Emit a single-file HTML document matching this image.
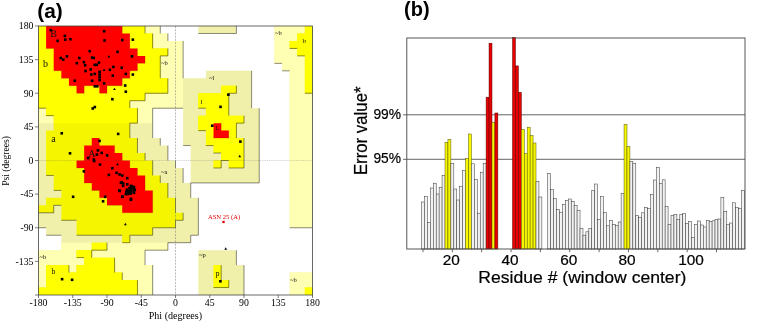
<!DOCTYPE html>
<html lang="en"><head><meta charset="utf-8"><title>Figure</title>
<style>html,body{margin:0;padding:0;background:#fff;}body{width:766px;height:324px;overflow:hidden;}svg{display:block;}</style>
</head><body>
<svg width="766" height="324" viewBox="0 0 766 324">
<rect x="0" y="0" width="766" height="324" fill="#ffffff"/>
<path d="M38.50 26.00H160.28V33.47H38.50ZM198.33 26.00H236.39V33.47H198.33ZM274.44 26.00H312.50V33.47H274.44ZM38.50 33.47H167.89V40.94H38.50ZM274.44 33.47H312.50V40.94H274.44ZM38.50 40.94H183.11V48.42H38.50ZM274.44 40.94H312.50V48.42H274.44ZM38.50 48.42H183.11V55.89H38.50ZM274.44 48.42H312.50V55.89H274.44ZM38.50 55.89H183.11V63.36H38.50ZM274.44 55.89H312.50V63.36H274.44ZM38.50 63.36H183.11V70.83H38.50ZM282.06 63.36H312.50V70.83H282.06ZM38.50 70.83H183.11V78.31H38.50ZM205.94 70.83H251.61V78.31H205.94ZM289.67 70.83H312.50V78.31H289.67ZM38.50 78.31H251.61V85.78H38.50ZM289.67 78.31H312.50V85.78H289.67ZM38.50 85.78H251.61V93.25H38.50ZM289.67 85.78H312.50V93.25H289.67ZM38.50 93.25H251.61V100.72H38.50ZM289.67 93.25H312.50V100.72H289.67ZM38.50 100.72H251.61V108.19H38.50ZM289.67 100.72H312.50V108.19H289.67ZM38.50 108.19H152.67V115.67H38.50ZM183.11 108.19H259.22V115.67H183.11ZM289.67 108.19H312.50V115.67H289.67ZM38.50 115.67H152.67V123.14H38.50ZM183.11 115.67H259.22V123.14H183.11ZM289.67 115.67H312.50V123.14H289.67ZM38.50 123.14H152.67V130.61H38.50ZM183.11 123.14H259.22V130.61H183.11ZM289.67 123.14H312.50V130.61H289.67ZM38.50 130.61H152.67V138.08H38.50ZM183.11 130.61H259.22V138.08H183.11ZM289.67 130.61H312.50V138.08H289.67ZM38.50 138.08H160.28V145.56H38.50ZM183.11 138.08H259.22V145.56H183.11ZM289.67 138.08H312.50V145.56H289.67ZM38.50 145.56H167.89V153.03H38.50ZM190.72 145.56H259.22V153.03H190.72ZM289.67 145.56H312.50V153.03H289.67ZM38.50 153.03H167.89V160.50H38.50ZM190.72 153.03H259.22V160.50H190.72ZM289.67 153.03H312.50V160.50H289.67ZM38.50 160.50H175.50V167.97H38.50ZM190.72 160.50H259.22V167.97H190.72ZM289.67 160.50H312.50V167.97H289.67ZM38.50 167.97H183.11V175.44H38.50ZM190.72 167.97H259.22V175.44H190.72ZM289.67 167.97H312.50V175.44H289.67ZM38.50 175.44H183.11V182.92H38.50ZM190.72 175.44H259.22V182.92H190.72ZM289.67 175.44H312.50V182.92H289.67ZM38.50 182.92H190.72V190.39H38.50ZM289.67 182.92H312.50V190.39H289.67ZM38.50 190.39H190.72V197.86H38.50ZM289.67 190.39H312.50V197.86H289.67ZM38.50 197.86H198.33V205.33H38.50ZM289.67 197.86H312.50V205.33H289.67ZM38.50 205.33H198.33V212.81H38.50ZM289.67 205.33H312.50V212.81H289.67ZM38.50 212.81H198.33V220.28H38.50ZM289.67 212.81H312.50V220.28H289.67ZM38.50 220.28H198.33V227.75H38.50ZM289.67 220.28H312.50V227.75H289.67ZM46.11 227.75H198.33V235.22H46.11ZM61.33 235.22H190.72V242.69H61.33ZM61.33 242.69H167.89V250.17H61.33ZM38.50 250.17H145.06V257.64H38.50ZM198.33 250.17H236.39V257.64H198.33ZM38.50 257.64H145.06V265.11H38.50ZM198.33 257.64H236.39V265.11H198.33ZM38.50 265.11H152.67V272.58H38.50ZM198.33 265.11H244.00V272.58H198.33ZM38.50 272.58H152.67V280.06H38.50ZM198.33 272.58H244.00V280.06H198.33ZM289.67 272.58H312.50V280.06H289.67ZM38.50 280.06H152.67V287.53H38.50ZM198.33 280.06H244.00V287.53H198.33ZM289.67 280.06H312.50V287.53H289.67ZM38.50 287.53H152.67V295.00H38.50ZM198.33 287.53H244.00V295.00H198.33ZM289.67 287.53H312.50V295.00H289.67Z" fill="#f0f0ab" fill-rule="nonzero"/>
<path d="M145.06 26.00H160.28V33.47H145.06ZM274.44 26.00H304.89V33.47H274.44ZM152.67 33.47H167.89V40.94H152.67ZM274.44 33.47H297.28V40.94H274.44ZM152.67 40.94H183.11V48.42H152.67ZM274.44 40.94H289.67V48.42H274.44ZM167.89 48.42H183.11V55.89H167.89ZM274.44 48.42H297.28V55.89H274.44ZM160.28 55.89H183.11V63.36H160.28ZM274.44 55.89H304.89V63.36H274.44ZM160.28 63.36H183.11V70.83H160.28ZM282.06 63.36H304.89V70.83H282.06ZM160.28 70.83H183.11V78.31H160.28ZM289.67 70.83H304.89V78.31H289.67ZM167.89 78.31H183.11V85.78H167.89ZM289.67 78.31H304.89V85.78H289.67ZM167.89 85.78H183.11V93.25H167.89ZM289.67 85.78H304.89V93.25H289.67ZM145.06 93.25H183.11V100.72H145.06ZM289.67 93.25H312.50V100.72H289.67ZM129.83 100.72H183.11V108.19H129.83ZM289.67 100.72H312.50V108.19H289.67ZM38.50 108.19H46.11V115.67H38.50ZM137.44 108.19H152.67V115.67H137.44ZM289.67 108.19H312.50V115.67H289.67ZM38.50 115.67H53.72V123.14H38.50ZM137.44 115.67H152.67V123.14H137.44ZM289.67 115.67H312.50V123.14H289.67ZM289.67 123.14H312.50V130.61H289.67ZM289.67 130.61H312.50V138.08H289.67ZM289.67 138.08H312.50V145.56H289.67ZM289.67 145.56H312.50V153.03H289.67ZM289.67 153.03H312.50V160.50H289.67ZM289.67 160.50H312.50V167.97H289.67ZM289.67 167.97H312.50V175.44H289.67ZM289.67 175.44H312.50V182.92H289.67ZM289.67 182.92H312.50V190.39H289.67ZM289.67 190.39H312.50V197.86H289.67ZM289.67 197.86H312.50V205.33H289.67ZM289.67 205.33H312.50V212.81H289.67ZM289.67 212.81H312.50V220.28H289.67ZM289.67 220.28H312.50V227.75H289.67ZM61.33 242.69H91.78V250.17H61.33ZM107.00 242.69H167.89V250.17H107.00ZM38.50 250.17H76.56V257.64H38.50ZM91.78 250.17H145.06V257.64H91.78ZM38.50 257.64H84.17V265.11H38.50ZM114.61 257.64H145.06V265.11H114.61ZM38.50 265.11H46.11V272.58H38.50ZM68.94 265.11H76.56V272.58H68.94ZM114.61 265.11H152.67V272.58H114.61ZM38.50 272.58H46.11V280.06H38.50ZM122.22 272.58H152.67V280.06H122.22ZM289.67 272.58H312.50V280.06H289.67ZM38.50 280.06H46.11V287.53H38.50ZM137.44 280.06H152.67V287.53H137.44ZM289.67 280.06H312.50V287.53H289.67ZM137.44 287.53H152.67V295.00H137.44ZM289.67 287.53H304.89V295.00H289.67Z" fill="#ffffb4" fill-rule="nonzero"/>
<path d="M38.50 26.00H145.06V33.47H38.50ZM304.89 26.00H312.50V33.47H304.89ZM38.50 33.47H152.67V40.94H38.50ZM297.28 33.47H312.50V40.94H297.28ZM38.50 40.94H152.67V48.42H38.50ZM289.67 40.94H312.50V48.42H289.67ZM38.50 48.42H167.89V55.89H38.50ZM297.28 48.42H312.50V55.89H297.28ZM38.50 55.89H160.28V63.36H38.50ZM304.89 55.89H312.50V63.36H304.89ZM38.50 63.36H160.28V70.83H38.50ZM304.89 63.36H312.50V70.83H304.89ZM38.50 70.83H160.28V78.31H38.50ZM304.89 70.83H312.50V78.31H304.89ZM38.50 78.31H167.89V85.78H38.50ZM304.89 78.31H312.50V85.78H304.89ZM38.50 85.78H167.89V93.25H38.50ZM221.17 85.78H236.39V93.25H221.17ZM304.89 85.78H312.50V93.25H304.89ZM38.50 93.25H145.06V100.72H38.50ZM198.33 93.25H228.78V100.72H198.33ZM38.50 100.72H129.83V108.19H38.50ZM198.33 100.72H228.78V108.19H198.33ZM46.11 108.19H137.44V115.67H46.11ZM205.94 108.19H228.78V115.67H205.94ZM53.72 115.67H137.44V123.14H53.72ZM198.33 115.67H244.00V123.14H198.33ZM53.72 123.14H129.83V130.61H53.72ZM198.33 123.14H236.39V130.61H198.33ZM46.11 130.61H129.83V138.08H46.11ZM205.94 130.61H236.39V138.08H205.94ZM46.11 138.08H137.44V145.56H46.11ZM205.94 138.08H244.00V145.56H205.94ZM46.11 145.56H137.44V153.03H46.11ZM213.56 145.56H244.00V153.03H213.56ZM46.11 153.03H145.06V160.50H46.11ZM221.17 153.03H244.00V160.50H221.17ZM46.11 160.50H152.67V167.97H46.11ZM213.56 160.50H221.17V167.97H213.56ZM228.78 160.50H244.00V167.97H228.78ZM46.11 167.97H152.67V175.44H46.11ZM53.72 175.44H160.28V182.92H53.72ZM53.72 182.92H167.89V190.39H53.72ZM61.33 190.39H167.89V197.86H61.33ZM46.11 197.86H175.50V205.33H46.11ZM38.50 205.33H53.72V212.81H38.50ZM61.33 205.33H175.50V212.81H61.33ZM61.33 212.81H183.11V220.28H61.33ZM76.56 220.28H175.50V227.75H76.56ZM76.56 227.75H152.67V235.22H76.56ZM122.22 235.22H129.83V242.69H122.22ZM91.78 242.69H107.00V250.17H91.78ZM76.56 250.17H91.78V257.64H76.56ZM84.17 257.64H114.61V265.11H84.17ZM46.11 265.11H68.94V272.58H46.11ZM76.56 265.11H114.61V272.58H76.56ZM213.56 265.11H221.17V272.58H213.56ZM46.11 272.58H122.22V280.06H46.11ZM213.56 272.58H221.17V280.06H213.56ZM46.11 280.06H137.44V287.53H46.11ZM213.56 280.06H228.78V287.53H213.56ZM38.50 287.53H137.44V295.00H38.50ZM304.89 287.53H312.50V295.00H304.89Z" fill="#f5f500" fill-rule="nonzero"/>
<path d="M38.50 26.00H46.11V33.47H38.50ZM122.22 26.00H145.06V33.47H122.22ZM304.89 26.00H312.50V33.47H304.89ZM38.50 33.47H46.11V40.94H38.50ZM129.83 33.47H152.67V40.94H129.83ZM297.28 33.47H312.50V40.94H297.28ZM38.50 40.94H46.11V48.42H38.50ZM129.83 40.94H152.67V48.42H129.83ZM289.67 40.94H312.50V48.42H289.67ZM38.50 48.42H53.72V55.89H38.50ZM137.44 48.42H167.89V55.89H137.44ZM297.28 48.42H312.50V55.89H297.28ZM38.50 55.89H53.72V63.36H38.50ZM145.06 55.89H160.28V63.36H145.06ZM304.89 55.89H312.50V63.36H304.89ZM38.50 63.36H53.72V70.83H38.50ZM137.44 63.36H160.28V70.83H137.44ZM304.89 63.36H312.50V70.83H304.89ZM38.50 70.83H61.33V78.31H38.50ZM129.83 70.83H160.28V78.31H129.83ZM304.89 70.83H312.50V78.31H304.89ZM38.50 78.31H68.94V85.78H38.50ZM122.22 78.31H167.89V85.78H122.22ZM304.89 78.31H312.50V85.78H304.89ZM38.50 85.78H76.56V93.25H38.50ZM84.17 85.78H99.39V93.25H84.17ZM107.00 85.78H167.89V93.25H107.00ZM221.17 85.78H236.39V93.25H221.17ZM304.89 85.78H312.50V93.25H304.89ZM38.50 93.25H145.06V100.72H38.50ZM198.33 93.25H228.78V100.72H198.33ZM38.50 100.72H129.83V108.19H38.50ZM198.33 100.72H228.78V108.19H198.33ZM46.11 108.19H137.44V115.67H46.11ZM205.94 108.19H228.78V115.67H205.94ZM53.72 115.67H137.44V123.14H53.72ZM198.33 115.67H244.00V123.14H198.33ZM198.33 123.14H213.56V130.61H198.33ZM221.17 123.14H236.39V130.61H221.17ZM205.94 130.61H213.56V138.08H205.94ZM228.78 130.61H236.39V138.08H228.78ZM205.94 138.08H244.00V145.56H205.94ZM213.56 145.56H244.00V153.03H213.56ZM221.17 153.03H244.00V160.50H221.17ZM213.56 160.50H221.17V167.97H213.56ZM228.78 160.50H244.00V167.97H228.78ZM91.78 242.69H107.00V250.17H91.78ZM76.56 250.17H91.78V257.64H76.56ZM84.17 257.64H114.61V265.11H84.17ZM46.11 265.11H68.94V272.58H46.11ZM76.56 265.11H114.61V272.58H76.56ZM213.56 265.11H221.17V272.58H213.56ZM46.11 272.58H122.22V280.06H46.11ZM213.56 272.58H221.17V280.06H213.56ZM46.11 280.06H137.44V287.53H46.11ZM213.56 280.06H228.78V287.53H213.56ZM38.50 287.53H137.44V295.00H38.50ZM304.89 287.53H312.50V295.00H304.89Z" fill="#ffff00" fill-rule="nonzero"/>
<path d="M46.11 26.00H122.22V33.47H46.11ZM46.11 33.47H129.83V40.94H46.11ZM46.11 40.94H129.83V48.42H46.11ZM53.72 48.42H137.44V55.89H53.72ZM53.72 55.89H145.06V63.36H53.72ZM53.72 63.36H137.44V70.83H53.72ZM61.33 70.83H129.83V78.31H61.33ZM68.94 78.31H122.22V85.78H68.94ZM76.56 85.78H84.17V93.25H76.56ZM99.39 85.78H107.00V93.25H99.39ZM213.56 123.14H221.17V130.61H213.56ZM213.56 130.61H228.78V138.08H213.56ZM91.78 138.08H99.39V145.56H91.78ZM84.17 145.56H114.61V153.03H84.17ZM84.17 153.03H122.22V160.50H84.17ZM76.56 160.50H129.83V167.97H76.56ZM84.17 167.97H137.44V175.44H84.17ZM84.17 175.44H145.06V182.92H84.17ZM91.78 182.92H145.06V190.39H91.78ZM99.39 190.39H152.67V197.86H99.39ZM107.00 197.86H152.67V205.33H107.00ZM122.22 205.33H152.67V212.81H122.22Z" fill="#ff0000" fill-rule="nonzero"/>
<path d="M145.06 26.00L145.06 33.47M160.28 26.00L160.28 33.47M198.33 33.47L205.94 33.47M205.94 33.47L213.56 33.47M213.56 33.47L221.17 33.47M221.17 33.47L228.78 33.47M236.39 26.00L236.39 33.47M228.78 33.47L236.39 33.47M152.67 33.47L152.67 40.94M167.89 33.47L167.89 40.94M152.67 40.94L152.67 48.42M183.11 40.94L183.11 48.42M289.67 48.42L297.28 48.42M167.89 48.42L167.89 55.89M160.28 55.89L167.89 55.89M183.11 48.42L183.11 55.89M297.28 55.89L304.89 55.89M160.28 55.89L160.28 63.36M183.11 55.89L183.11 63.36M274.44 63.36L282.06 63.36M160.28 63.36L160.28 70.83M183.11 63.36L183.11 70.83M282.06 70.83L289.67 70.83M160.28 70.83L160.28 78.31M183.11 70.83L183.11 78.31M251.61 70.83L251.61 78.31M167.89 78.31L167.89 85.78M251.61 78.31L251.61 85.78M145.06 93.25L152.67 93.25M152.67 93.25L160.28 93.25M167.89 85.78L167.89 93.25M160.28 93.25L167.89 93.25M236.39 85.78L236.39 93.25M228.78 93.25L236.39 93.25M251.61 85.78L251.61 93.25M304.89 93.25L312.50 93.25M129.83 100.72L137.44 100.72M145.06 93.25L145.06 100.72M137.44 100.72L145.06 100.72M228.78 93.25L228.78 100.72M251.61 93.25L251.61 100.72M38.50 108.19L46.11 108.19M129.83 100.72L129.83 108.19M152.67 108.19L160.28 108.19M160.28 108.19L167.89 108.19M167.89 108.19L175.50 108.19M175.50 108.19L183.11 108.19M198.33 108.19L205.94 108.19M228.78 100.72L228.78 108.19M251.61 100.72L251.61 108.19M46.11 115.67L53.72 115.67M137.44 108.19L137.44 115.67M152.67 108.19L152.67 115.67M228.78 108.19L228.78 115.67M259.22 108.19L259.22 115.67M137.44 115.67L137.44 123.14M129.83 123.14L137.44 123.14M152.67 115.67L152.67 123.14M244.00 115.67L244.00 123.14M236.39 123.14L244.00 123.14M259.22 115.67L259.22 123.14M129.83 123.14L129.83 130.61M152.67 123.14L152.67 130.61M198.33 130.61L205.94 130.61M236.39 123.14L236.39 130.61M259.22 123.14L259.22 130.61M129.83 130.61L129.83 138.08M152.67 130.61L152.67 138.08M236.39 130.61L236.39 138.08M259.22 130.61L259.22 138.08M137.44 138.08L137.44 145.56M160.28 138.08L160.28 145.56M183.11 145.56L190.72 145.56M205.94 145.56L213.56 145.56M244.00 138.08L244.00 145.56M259.22 138.08L259.22 145.56M137.44 145.56L137.44 153.03M167.89 145.56L167.89 153.03M213.56 153.03L221.17 153.03M244.00 145.56L244.00 153.03M259.22 145.56L259.22 153.03M145.06 153.03L145.06 160.50M167.89 153.03L167.89 160.50M221.17 160.50L228.78 160.50M244.00 153.03L244.00 160.50M259.22 153.03L259.22 160.50M152.67 160.50L152.67 167.97M175.50 160.50L175.50 167.97M221.17 160.50L221.17 167.97M213.56 167.97L221.17 167.97M228.78 167.97L236.39 167.97M244.00 160.50L244.00 167.97M236.39 167.97L244.00 167.97M259.22 160.50L259.22 167.97M46.11 175.44L53.72 175.44M152.67 167.97L152.67 175.44M183.11 167.97L183.11 175.44M259.22 167.97L259.22 175.44M160.28 175.44L160.28 182.92M183.11 175.44L183.11 182.92M190.72 182.92L198.33 182.92M198.33 182.92L205.94 182.92M205.94 182.92L213.56 182.92M213.56 182.92L221.17 182.92M221.17 182.92L228.78 182.92M228.78 182.92L236.39 182.92M236.39 182.92L244.00 182.92M244.00 182.92L251.61 182.92M259.22 175.44L259.22 182.92M251.61 182.92L259.22 182.92M53.72 190.39L61.33 190.39M167.89 182.92L167.89 190.39M190.72 182.92L190.72 190.39M167.89 190.39L167.89 197.86M190.72 190.39L190.72 197.86M53.72 205.33L61.33 205.33M175.50 197.86L175.50 205.33M198.33 197.86L198.33 205.33M38.50 212.81L46.11 212.81M53.72 205.33L53.72 212.81M46.11 212.81L53.72 212.81M175.50 205.33L175.50 212.81M198.33 205.33L198.33 212.81M61.33 220.28L68.94 220.28M68.94 220.28L76.56 220.28M183.11 212.81L183.11 220.28M175.50 220.28L183.11 220.28M198.33 212.81L198.33 220.28M38.50 227.75L46.11 227.75M152.67 227.75L160.28 227.75M160.28 227.75L167.89 227.75M175.50 220.28L175.50 227.75M167.89 227.75L175.50 227.75M198.33 220.28L198.33 227.75M289.67 227.75L297.28 227.75M297.28 227.75L304.89 227.75M304.89 227.75L312.50 227.75M46.11 235.22L53.72 235.22M53.72 235.22L61.33 235.22M76.56 235.22L84.17 235.22M84.17 235.22L91.78 235.22M91.78 235.22L99.39 235.22M99.39 235.22L107.00 235.22M107.00 235.22L114.61 235.22M114.61 235.22L122.22 235.22M129.83 235.22L137.44 235.22M137.44 235.22L145.06 235.22M152.67 227.75L152.67 235.22M145.06 235.22L152.67 235.22M198.33 227.75L198.33 235.22M190.72 235.22L198.33 235.22M129.83 235.22L129.83 242.69M122.22 242.69L129.83 242.69M167.89 242.69L175.50 242.69M175.50 242.69L183.11 242.69M190.72 235.22L190.72 242.69M183.11 242.69L190.72 242.69M91.78 250.17L99.39 250.17M107.00 242.69L107.00 250.17M99.39 250.17L107.00 250.17M145.06 250.17L152.67 250.17M152.67 250.17L160.28 250.17M167.89 242.69L167.89 250.17M160.28 250.17L167.89 250.17M76.56 257.64L84.17 257.64M91.78 250.17L91.78 257.64M145.06 250.17L145.06 257.64M236.39 250.17L236.39 257.64M114.61 257.64L114.61 265.11M145.06 257.64L145.06 265.11M236.39 257.64L236.39 265.11M68.94 265.11L68.94 272.58M114.61 265.11L114.61 272.58M152.67 265.11L152.67 272.58M221.17 265.11L221.17 272.58M244.00 265.11L244.00 272.58M122.22 272.58L122.22 280.06M152.67 272.58L152.67 280.06M221.17 272.58L221.17 280.06M244.00 272.58L244.00 280.06M137.44 280.06L137.44 287.53M152.67 280.06L152.67 287.53M213.56 287.53L221.17 287.53M228.78 280.06L228.78 287.53M221.17 287.53L228.78 287.53M244.00 280.06L244.00 287.53M137.44 287.53L137.44 295.00M152.67 287.53L152.67 295.00M244.00 287.53L244.00 295.00" stroke="#000" stroke-opacity="0.7" stroke-width="0.65" fill="none"/>
<path d="M122.22 26.00L122.22 33.47M129.83 33.47L129.83 40.94M46.11 48.42L53.72 48.42M129.83 40.94L129.83 48.42M137.44 48.42L137.44 55.89M145.06 55.89L145.06 63.36M137.44 63.36L145.06 63.36M53.72 70.83L61.33 70.83M137.44 63.36L137.44 70.83M129.83 70.83L137.44 70.83M61.33 78.31L68.94 78.31M129.83 70.83L129.83 78.31M122.22 78.31L129.83 78.31M68.94 85.78L76.56 85.78M84.17 85.78L91.78 85.78M91.78 85.78L99.39 85.78M107.00 85.78L114.61 85.78M122.22 78.31L122.22 85.78M114.61 85.78L122.22 85.78M84.17 85.78L84.17 93.25M76.56 93.25L84.17 93.25M107.00 85.78L107.00 93.25M99.39 93.25L107.00 93.25M221.17 123.14L221.17 130.61M213.56 138.08L221.17 138.08M228.78 130.61L228.78 138.08M221.17 138.08L228.78 138.08M99.39 138.08L99.39 145.56M114.61 145.56L114.61 153.03M122.22 153.03L122.22 160.50M76.56 167.97L84.17 167.97M129.83 160.50L129.83 167.97M137.44 167.97L137.44 175.44M84.17 182.92L91.78 182.92M145.06 175.44L145.06 182.92M91.78 190.39L99.39 190.39M145.06 182.92L145.06 190.39M99.39 197.86L107.00 197.86M152.67 190.39L152.67 197.86M107.00 205.33L114.61 205.33M114.61 205.33L122.22 205.33M152.67 197.86L152.67 205.33M122.22 212.81L129.83 212.81M129.83 212.81L137.44 212.81M137.44 212.81L145.06 212.81M152.67 205.33L152.67 212.81M145.06 212.81L152.67 212.81" stroke="#600" stroke-opacity="0.35" stroke-width="0.5" fill="none"/>
<path d="M175.50 26.00V295.00" stroke="#777" stroke-width="0.5" stroke-dasharray="2 1.2" fill="none"/>
<path d="M38.50 160.50H312.50" stroke="#555" stroke-opacity="0.5" stroke-width="0.5" stroke-dasharray="1 0.8" fill="none"/>
<rect x="38.50" y="26.00" width="274.00" height="269.00" fill="none" stroke="#444" stroke-width="0.8"/>
<path d="M38.50 295.00v3" stroke="#444" stroke-width="0.7"/>
<text x="38.50" y="306.4" font-size="9.8" text-anchor="middle" fill="#000" font-family="Liberation Serif, serif">-180</text>
<path d="M38.50 295.00h-3.5" stroke="#444" stroke-width="0.7"/>
<path d="M72.75 295.00v3" stroke="#444" stroke-width="0.7"/>
<text x="72.75" y="306.4" font-size="9.8" text-anchor="middle" fill="#000" font-family="Liberation Serif, serif">-135</text>
<path d="M38.50 261.38h-3.5" stroke="#444" stroke-width="0.7"/>
<text x="33.5" y="264.68" font-size="9.8" text-anchor="end" fill="#000" font-family="Liberation Serif, serif">-135</text>
<path d="M107.00 295.00v3" stroke="#444" stroke-width="0.7"/>
<text x="107.00" y="306.4" font-size="9.8" text-anchor="middle" fill="#000" font-family="Liberation Serif, serif">-90</text>
<path d="M38.50 227.75h-3.5" stroke="#444" stroke-width="0.7"/>
<text x="33.5" y="231.05" font-size="9.8" text-anchor="end" fill="#000" font-family="Liberation Serif, serif">-90</text>
<path d="M141.25 295.00v3" stroke="#444" stroke-width="0.7"/>
<text x="141.25" y="306.4" font-size="9.8" text-anchor="middle" fill="#000" font-family="Liberation Serif, serif">-45</text>
<path d="M38.50 194.12h-3.5" stroke="#444" stroke-width="0.7"/>
<text x="33.5" y="197.43" font-size="9.8" text-anchor="end" fill="#000" font-family="Liberation Serif, serif">-45</text>
<path d="M175.50 295.00v3" stroke="#444" stroke-width="0.7"/>
<text x="175.50" y="306.4" font-size="9.8" text-anchor="middle" fill="#000" font-family="Liberation Serif, serif">0</text>
<path d="M38.50 160.50h-3.5" stroke="#444" stroke-width="0.7"/>
<text x="33.5" y="163.80" font-size="9.8" text-anchor="end" fill="#000" font-family="Liberation Serif, serif">0</text>
<path d="M209.75 295.00v3" stroke="#444" stroke-width="0.7"/>
<text x="209.75" y="306.4" font-size="9.8" text-anchor="middle" fill="#000" font-family="Liberation Serif, serif">45</text>
<path d="M38.50 126.88h-3.5" stroke="#444" stroke-width="0.7"/>
<text x="33.5" y="130.18" font-size="9.8" text-anchor="end" fill="#000" font-family="Liberation Serif, serif">45</text>
<path d="M244.00 295.00v3" stroke="#444" stroke-width="0.7"/>
<text x="244.00" y="306.4" font-size="9.8" text-anchor="middle" fill="#000" font-family="Liberation Serif, serif">90</text>
<path d="M38.50 93.25h-3.5" stroke="#444" stroke-width="0.7"/>
<text x="33.5" y="96.55" font-size="9.8" text-anchor="end" fill="#000" font-family="Liberation Serif, serif">90</text>
<path d="M278.25 295.00v3" stroke="#444" stroke-width="0.7"/>
<text x="278.25" y="306.4" font-size="9.8" text-anchor="middle" fill="#000" font-family="Liberation Serif, serif">135</text>
<path d="M38.50 59.62h-3.5" stroke="#444" stroke-width="0.7"/>
<text x="33.5" y="62.92" font-size="9.8" text-anchor="end" fill="#000" font-family="Liberation Serif, serif">135</text>
<path d="M312.50 295.00v3" stroke="#444" stroke-width="0.7"/>
<text x="312.50" y="306.4" font-size="9.8" text-anchor="middle" fill="#000" font-family="Liberation Serif, serif">180</text>
<path d="M38.50 26.00h-3.5" stroke="#444" stroke-width="0.7"/>
<text x="33.5" y="29.30" font-size="9.8" text-anchor="end" fill="#000" font-family="Liberation Serif, serif">180</text>
<text transform="translate(175.4 318.5) scale(1.05 1)" font-size="9.6" text-anchor="middle" fill="#000" font-family="Liberation Serif, serif">Phi (degrees)</text>
<text transform="translate(8.7 160.9) rotate(-90)" font-size="9.6" text-anchor="middle" fill="#000" font-family="Liberation Serif, serif">Psi (degrees)</text>
<text x="50.2" y="36.9" font-size="10.0" fill="#111" font-family="Liberation Serif, serif">B</text>
<text x="43.0" y="66.6" font-size="10.0" fill="#111" font-family="Liberation Serif, serif">b</text>
<text x="51.2" y="141.6" font-size="10.0" fill="#111" font-family="Liberation Serif, serif">a</text>
<text x="88.3" y="156.6" font-size="10.0" fill="#111" font-family="Liberation Serif, serif">A</text>
<text x="161.0" y="65.0" font-size="6.5" fill="#111" font-family="Liberation Serif, serif">~b</text>
<text x="161.0" y="174.0" font-size="6.5" fill="#111" font-family="Liberation Serif, serif">~a</text>
<text x="209.0" y="80.0" font-size="6.5" fill="#111" font-family="Liberation Serif, serif">~l</text>
<text x="200.5" y="104.0" font-size="7.0" fill="#111" font-family="Liberation Serif, serif">l</text>
<text x="215.6" y="130.0" font-size="6.0" fill="#111" font-family="Liberation Serif, serif">L</text>
<text x="199.0" y="257.0" font-size="6.5" fill="#111" font-family="Liberation Serif, serif">~p</text>
<text x="215.5" y="276.0" font-size="8.0" fill="#111" font-family="Liberation Serif, serif">p</text>
<text x="290.0" y="282.0" font-size="6.5" fill="#111" font-family="Liberation Serif, serif">~b</text>
<text x="275.0" y="35.0" font-size="6.5" fill="#111" font-family="Liberation Serif, serif">~b</text>
<text x="302.6" y="43.3" font-size="7.0" fill="#111" font-family="Liberation Serif, serif">b</text>
<text x="39.5" y="258.5" font-size="6.5" fill="#111" font-family="Liberation Serif, serif">~b</text>
<text x="51.5" y="274.0" font-size="7.5" fill="#111" font-family="Liberation Serif, serif">b</text>
<rect x="49.51" y="28.83" width="2.6" height="2.6" fill="#000"/>
<rect x="56.33" y="39.58" width="2.6" height="2.6" fill="#000"/>
<rect x="63.56" y="34.62" width="2.6" height="2.6" fill="#000"/>
<rect x="63.97" y="38.34" width="2.6" height="2.6" fill="#000"/>
<rect x="69.14" y="37.92" width="2.6" height="2.6" fill="#000"/>
<rect x="102.82" y="29.87" width="2.6" height="2.6" fill="#000"/>
<rect x="103.23" y="39.16" width="2.6" height="2.6" fill="#000"/>
<rect x="121.00" y="38.75" width="2.6" height="2.6" fill="#000"/>
<rect x="131.53" y="38.34" width="2.6" height="2.6" fill="#000"/>
<rect x="88.35" y="49.91" width="2.6" height="2.6" fill="#000"/>
<rect x="116.25" y="50.53" width="2.6" height="2.6" fill="#000"/>
<rect x="59.43" y="56.72" width="2.6" height="2.6" fill="#000"/>
<rect x="65.63" y="55.07" width="2.6" height="2.6" fill="#000"/>
<rect x="61.91" y="58.38" width="2.6" height="2.6" fill="#000"/>
<rect x="78.02" y="56.72" width="2.6" height="2.6" fill="#000"/>
<rect x="82.57" y="60.86" width="2.6" height="2.6" fill="#000"/>
<rect x="75.54" y="61.89" width="2.6" height="2.6" fill="#000"/>
<rect x="83.81" y="63.96" width="2.6" height="2.6" fill="#000"/>
<rect x="90.83" y="56.31" width="2.6" height="2.6" fill="#000"/>
<rect x="92.49" y="56.72" width="2.6" height="2.6" fill="#000"/>
<rect x="97.65" y="61.27" width="2.6" height="2.6" fill="#000"/>
<rect x="93.52" y="63.54" width="2.6" height="2.6" fill="#000"/>
<rect x="95.58" y="63.54" width="2.6" height="2.6" fill="#000"/>
<rect x="130.71" y="55.07" width="2.6" height="2.6" fill="#000"/>
<rect x="84.22" y="69.74" width="2.6" height="2.6" fill="#000"/>
<rect x="89.39" y="68.09" width="2.6" height="2.6" fill="#000"/>
<rect x="90.01" y="73.25" width="2.6" height="2.6" fill="#000"/>
<rect x="93.52" y="72.63" width="2.6" height="2.6" fill="#000"/>
<rect x="98.27" y="70.57" width="2.6" height="2.6" fill="#000"/>
<rect x="98.27" y="73.25" width="2.6" height="2.6" fill="#000"/>
<rect x="98.27" y="75.94" width="2.6" height="2.6" fill="#000"/>
<rect x="108.60" y="68.50" width="2.6" height="2.6" fill="#000"/>
<rect x="112.11" y="65.61" width="2.6" height="2.6" fill="#000"/>
<rect x="120.38" y="66.44" width="2.6" height="2.6" fill="#000"/>
<rect x="111.49" y="74.29" width="2.6" height="2.6" fill="#000"/>
<rect x="124.51" y="72.63" width="2.6" height="2.6" fill="#000"/>
<rect x="131.53" y="73.25" width="2.6" height="2.6" fill="#000"/>
<rect x="73.48" y="79.45" width="2.6" height="2.6" fill="#000"/>
<rect x="90.83" y="79.45" width="2.6" height="2.6" fill="#000"/>
<rect x="98.27" y="78.83" width="2.6" height="2.6" fill="#000"/>
<rect x="102.82" y="82.14" width="2.6" height="2.6" fill="#000"/>
<rect x="93.52" y="85.03" width="2.6" height="2.6" fill="#000"/>
<rect x="96.00" y="85.03" width="2.6" height="2.6" fill="#000"/>
<rect x="123.89" y="84.20" width="2.6" height="2.6" fill="#000"/>
<rect x="124.51" y="90.40" width="2.6" height="2.6" fill="#000"/>
<rect x="111.08" y="97.90" width="2.6" height="2.6" fill="#000"/>
<rect x="91.45" y="107.20" width="2.6" height="2.6" fill="#000"/>
<rect x="93.52" y="105.75" width="2.6" height="2.6" fill="#000"/>
<rect x="60.46" y="131.99" width="2.6" height="2.6" fill="#000"/>
<rect x="116.87" y="132.61" width="2.6" height="2.6" fill="#000"/>
<rect x="98.27" y="139.63" width="2.6" height="2.6" fill="#000"/>
<rect x="68.72" y="152.03" width="2.6" height="2.6" fill="#000"/>
<rect x="96.62" y="149.14" width="2.6" height="2.6" fill="#000"/>
<rect x="95.58" y="153.27" width="2.6" height="2.6" fill="#000"/>
<rect x="100.34" y="151.62" width="2.6" height="2.6" fill="#000"/>
<rect x="105.91" y="154.10" width="2.6" height="2.6" fill="#000"/>
<rect x="86.91" y="156.78" width="2.6" height="2.6" fill="#000"/>
<rect x="92.49" y="158.23" width="2.6" height="2.6" fill="#000"/>
<rect x="92.90" y="159.73" width="2.6" height="2.6" fill="#000"/>
<rect x="98.68" y="163.25" width="2.6" height="2.6" fill="#000"/>
<rect x="82.57" y="170.06" width="2.6" height="2.6" fill="#000"/>
<rect x="111.08" y="166.96" width="2.6" height="2.6" fill="#000"/>
<rect x="107.57" y="173.58" width="2.6" height="2.6" fill="#000"/>
<rect x="115.21" y="171.51" width="2.6" height="2.6" fill="#000"/>
<rect x="118.31" y="173.16" width="2.6" height="2.6" fill="#000"/>
<rect x="121.00" y="174.20" width="2.6" height="2.6" fill="#000"/>
<rect x="125.96" y="176.88" width="2.6" height="2.6" fill="#000"/>
<rect x="120.38" y="181.01" width="2.6" height="2.6" fill="#000"/>
<rect x="121.82" y="184.53" width="2.6" height="2.6" fill="#000"/>
<rect x="125.96" y="183.08" width="2.6" height="2.6" fill="#000"/>
<rect x="129.68" y="184.53" width="2.6" height="2.6" fill="#000"/>
<rect x="132.15" y="185.56" width="2.6" height="2.6" fill="#000"/>
<rect x="130.71" y="187.63" width="2.6" height="2.6" fill="#000"/>
<rect x="132.77" y="189.28" width="2.6" height="2.6" fill="#000"/>
<rect x="127.61" y="189.69" width="2.6" height="2.6" fill="#000"/>
<rect x="125.54" y="190.72" width="2.6" height="2.6" fill="#000"/>
<rect x="128.64" y="191.76" width="2.6" height="2.6" fill="#000"/>
<rect x="126.58" y="192.79" width="2.6" height="2.6" fill="#000"/>
<rect x="124.51" y="192.79" width="2.6" height="2.6" fill="#000"/>
<rect x="118.31" y="189.69" width="2.6" height="2.6" fill="#000"/>
<rect x="121.00" y="195.48" width="2.6" height="2.6" fill="#000"/>
<rect x="129.68" y="197.54" width="2.6" height="2.6" fill="#000"/>
<rect x="103.85" y="195.48" width="2.6" height="2.6" fill="#000"/>
<rect x="101.78" y="200.02" width="2.6" height="2.6" fill="#000"/>
<rect x="71.82" y="195.48" width="2.6" height="2.6" fill="#000"/>
<rect x="129.06" y="188.25" width="2.6" height="2.6" fill="#000"/>
<rect x="130.09" y="190.10" width="2.6" height="2.6" fill="#000"/>
<rect x="127.20" y="191.34" width="2.6" height="2.6" fill="#000"/>
<rect x="227.08" y="93.36" width="2.6" height="2.6" fill="#000"/>
<rect x="219.22" y="105.56" width="2.6" height="2.6" fill="#000"/>
<rect x="210.94" y="124.39" width="2.6" height="2.6" fill="#000"/>
<rect x="239.08" y="140.32" width="2.6" height="2.6" fill="#000"/>
<rect x="130.40" y="185.30" width="2.6" height="2.6" fill="#000"/>
<rect x="132.70" y="186.10" width="2.6" height="2.6" fill="#000"/>
<rect x="133.50" y="188.40" width="2.6" height="2.6" fill="#000"/>
<rect x="132.70" y="191.50" width="2.6" height="2.6" fill="#000"/>
<rect x="129.60" y="192.30" width="2.6" height="2.6" fill="#000"/>
<rect x="126.50" y="192.30" width="2.6" height="2.6" fill="#000"/>
<rect x="125.00" y="190.70" width="2.6" height="2.6" fill="#000"/>
<rect x="125.70" y="188.40" width="2.6" height="2.6" fill="#000"/>
<rect x="128.10" y="186.90" width="2.6" height="2.6" fill="#000"/>
<rect x="121.90" y="182.20" width="2.6" height="2.6" fill="#000"/>
<rect x="119.60" y="181.50" width="2.6" height="2.6" fill="#000"/>
<rect x="118.00" y="189.20" width="2.6" height="2.6" fill="#000"/>
<rect x="121.10" y="195.40" width="2.6" height="2.6" fill="#000"/>
<rect x="129.60" y="198.50" width="2.6" height="2.6" fill="#000"/>
<rect x="60.80" y="277.90" width="2.6" height="2.6" fill="#000"/>
<rect x="70.80" y="278.50" width="2.6" height="2.6" fill="#000"/>
<rect x="219.10" y="280.00" width="2.6" height="2.6" fill="#000"/>
<path d="M108.87 55.07l1.4 2.4h-2.8z" fill="#000"/>
<path d="M104.12 68.50l1.4 2.4h-2.8z" fill="#000"/>
<path d="M114.45 87.72l1.4 2.4h-2.8z" fill="#000"/>
<path d="M117.55 162.83l1.4 2.4h-2.8z" fill="#000"/>
<path d="M125.40 222.75l1.4 2.4h-2.8z" fill="#000"/>
<path d="M239.76 154.81l1.4 2.4h-2.8z" fill="#000"/>
<path d="M225.70 247.30l1.4 2.4h-2.8z" fill="#000"/>
<rect x="222.4" y="220.8" width="2.3" height="2.3" fill="#e00000"/>
<text x="224" y="219.3" font-size="6.6" text-anchor="middle" fill="#e00000" font-family="Liberation Serif, serif">ASN 25 (A)</text>
<text transform="translate(37.2 18.1) scale(1.045 1)" font-size="20" font-weight="bold" fill="#000" font-family="Liberation Sans, sans-serif">(a)</text>
<rect x="406.80" y="38.00" width="338.20" height="211.00" fill="#fff" stroke="none"/>
<path d="M406.80 114.8H745.00M406.80 159.3H745.00" stroke="#555" stroke-width="0.9" fill="none"/>
<rect x="421.53" y="202.00" width="2.94" height="47.00" fill="#f2f2f2" stroke="#333333" stroke-width="0.5"/>
<rect x="424.47" y="196.40" width="2.94" height="52.60" fill="#f2f2f2" stroke="#333333" stroke-width="0.5"/>
<rect x="427.40" y="222.30" width="2.94" height="26.70" fill="#f2f2f2" stroke="#333333" stroke-width="0.5"/>
<rect x="430.34" y="188.00" width="2.94" height="61.00" fill="#f2f2f2" stroke="#333333" stroke-width="0.5"/>
<rect x="433.27" y="183.20" width="2.94" height="65.80" fill="#f2f2f2" stroke="#333333" stroke-width="0.5"/>
<rect x="436.21" y="194.00" width="2.94" height="55.00" fill="#f2f2f2" stroke="#333333" stroke-width="0.5"/>
<rect x="439.14" y="187.20" width="2.94" height="61.80" fill="#f2f2f2" stroke="#333333" stroke-width="0.5"/>
<rect x="442.08" y="175.40" width="2.94" height="73.60" fill="#f2f2f2" stroke="#333333" stroke-width="0.5"/>
<rect x="445.01" y="142.30" width="2.94" height="106.70" fill="#f7f700" stroke="#55550a" stroke-width="0.5"/>
<rect x="447.95" y="139.50" width="2.94" height="109.50" fill="#f7f700" stroke="#55550a" stroke-width="0.5"/>
<rect x="450.88" y="163.30" width="2.94" height="85.70" fill="#f2f2f2" stroke="#333333" stroke-width="0.5"/>
<rect x="453.82" y="189.00" width="2.94" height="60.00" fill="#f2f2f2" stroke="#333333" stroke-width="0.5"/>
<rect x="456.75" y="200.00" width="2.94" height="49.00" fill="#f2f2f2" stroke="#333333" stroke-width="0.5"/>
<rect x="459.69" y="186.20" width="2.94" height="62.80" fill="#f2f2f2" stroke="#333333" stroke-width="0.5"/>
<rect x="462.62" y="170.70" width="2.94" height="78.30" fill="#f2f2f2" stroke="#333333" stroke-width="0.5"/>
<rect x="465.56" y="158.60" width="2.94" height="90.40" fill="#f7f700" stroke="#55550a" stroke-width="0.5"/>
<rect x="468.49" y="134.00" width="2.94" height="115.00" fill="#f7f700" stroke="#55550a" stroke-width="0.5"/>
<rect x="471.43" y="163.80" width="2.94" height="85.20" fill="#f2f2f2" stroke="#333333" stroke-width="0.5"/>
<rect x="474.36" y="179.50" width="2.94" height="69.50" fill="#f2f2f2" stroke="#333333" stroke-width="0.5"/>
<rect x="477.30" y="213.20" width="2.94" height="35.80" fill="#f2f2f2" stroke="#333333" stroke-width="0.5"/>
<rect x="480.23" y="172.20" width="2.94" height="76.80" fill="#f2f2f2" stroke="#333333" stroke-width="0.5"/>
<rect x="483.17" y="163.30" width="2.94" height="85.70" fill="#f2f2f2" stroke="#333333" stroke-width="0.5"/>
<rect x="486.10" y="97.20" width="2.94" height="151.80" fill="#e60000" stroke="#5a0000" stroke-width="0.5"/>
<rect x="489.04" y="43.20" width="2.94" height="205.80" fill="#e60000" stroke="#5a0000" stroke-width="0.5"/>
<rect x="491.97" y="122.50" width="2.94" height="126.50" fill="#f7f700" stroke="#55550a" stroke-width="0.5"/>
<rect x="494.91" y="113.00" width="2.94" height="136.00" fill="#e60000" stroke="#5a0000" stroke-width="0.5"/>
<rect x="512.52" y="37.50" width="2.94" height="211.50" fill="#e60000" stroke="#5a0000" stroke-width="0.5"/>
<rect x="515.45" y="65.90" width="2.94" height="183.10" fill="#e60000" stroke="#5a0000" stroke-width="0.5"/>
<rect x="518.39" y="92.40" width="2.94" height="156.60" fill="#e60000" stroke="#5a0000" stroke-width="0.5"/>
<rect x="521.32" y="129.30" width="2.94" height="119.70" fill="#f7f700" stroke="#55550a" stroke-width="0.5"/>
<rect x="524.26" y="153.50" width="2.94" height="95.50" fill="#f7f700" stroke="#55550a" stroke-width="0.5"/>
<rect x="527.19" y="127.20" width="2.94" height="121.80" fill="#f7f700" stroke="#55550a" stroke-width="0.5"/>
<rect x="530.13" y="135.50" width="2.94" height="113.50" fill="#f7f700" stroke="#55550a" stroke-width="0.5"/>
<rect x="533.06" y="143.00" width="2.94" height="106.00" fill="#f7f700" stroke="#55550a" stroke-width="0.5"/>
<rect x="536.00" y="181.30" width="2.94" height="67.70" fill="#f2f2f2" stroke="#333333" stroke-width="0.5"/>
<rect x="538.93" y="197.00" width="2.94" height="52.00" fill="#f2f2f2" stroke="#333333" stroke-width="0.5"/>
<rect x="547.74" y="173.50" width="2.94" height="75.50" fill="#f2f2f2" stroke="#333333" stroke-width="0.5"/>
<rect x="550.67" y="189.50" width="2.94" height="59.50" fill="#f2f2f2" stroke="#333333" stroke-width="0.5"/>
<rect x="553.61" y="198.60" width="2.94" height="50.40" fill="#f2f2f2" stroke="#333333" stroke-width="0.5"/>
<rect x="556.54" y="209.40" width="2.94" height="39.60" fill="#f2f2f2" stroke="#333333" stroke-width="0.5"/>
<rect x="559.48" y="212.20" width="2.94" height="36.80" fill="#f2f2f2" stroke="#333333" stroke-width="0.5"/>
<rect x="562.41" y="204.40" width="2.94" height="44.60" fill="#f2f2f2" stroke="#333333" stroke-width="0.5"/>
<rect x="565.35" y="200.50" width="2.94" height="48.50" fill="#f2f2f2" stroke="#333333" stroke-width="0.5"/>
<rect x="568.28" y="199.00" width="2.94" height="50.00" fill="#f2f2f2" stroke="#333333" stroke-width="0.5"/>
<rect x="571.22" y="201.60" width="2.94" height="47.40" fill="#f2f2f2" stroke="#333333" stroke-width="0.5"/>
<rect x="574.15" y="205.50" width="2.94" height="43.50" fill="#f2f2f2" stroke="#333333" stroke-width="0.5"/>
<rect x="577.09" y="210.20" width="2.94" height="38.80" fill="#f2f2f2" stroke="#333333" stroke-width="0.5"/>
<rect x="580.02" y="228.20" width="2.94" height="20.80" fill="#f2f2f2" stroke="#333333" stroke-width="0.5"/>
<rect x="582.96" y="235.20" width="2.94" height="13.80" fill="#f2f2f2" stroke="#333333" stroke-width="0.5"/>
<rect x="585.89" y="231.80" width="2.94" height="17.20" fill="#f2f2f2" stroke="#333333" stroke-width="0.5"/>
<rect x="588.83" y="228.50" width="2.94" height="20.50" fill="#f2f2f2" stroke="#333333" stroke-width="0.5"/>
<rect x="591.76" y="190.40" width="2.94" height="58.60" fill="#f2f2f2" stroke="#333333" stroke-width="0.5"/>
<rect x="594.70" y="184.00" width="2.94" height="65.00" fill="#f2f2f2" stroke="#333333" stroke-width="0.5"/>
<rect x="597.63" y="219.30" width="2.94" height="29.70" fill="#f2f2f2" stroke="#333333" stroke-width="0.5"/>
<rect x="600.57" y="196.70" width="2.94" height="52.30" fill="#f2f2f2" stroke="#333333" stroke-width="0.5"/>
<rect x="603.50" y="212.50" width="2.94" height="36.50" fill="#f2f2f2" stroke="#333333" stroke-width="0.5"/>
<rect x="606.44" y="225.80" width="2.94" height="23.20" fill="#f2f2f2" stroke="#333333" stroke-width="0.5"/>
<rect x="609.37" y="220.70" width="2.94" height="28.30" fill="#f2f2f2" stroke="#333333" stroke-width="0.5"/>
<rect x="612.31" y="224.30" width="2.94" height="24.70" fill="#f2f2f2" stroke="#333333" stroke-width="0.5"/>
<rect x="615.24" y="225.40" width="2.94" height="23.60" fill="#f2f2f2" stroke="#333333" stroke-width="0.5"/>
<rect x="618.18" y="222.00" width="2.94" height="27.00" fill="#f2f2f2" stroke="#333333" stroke-width="0.5"/>
<rect x="621.11" y="193.50" width="2.94" height="55.50" fill="#f2f2f2" stroke="#333333" stroke-width="0.5"/>
<rect x="624.05" y="124.50" width="2.94" height="124.50" fill="#f7f700" stroke="#55550a" stroke-width="0.5"/>
<rect x="626.98" y="146.50" width="2.94" height="102.50" fill="#f7f700" stroke="#55550a" stroke-width="0.5"/>
<rect x="629.92" y="161.60" width="2.94" height="87.40" fill="#f2f2f2" stroke="#333333" stroke-width="0.5"/>
<rect x="632.85" y="163.20" width="2.94" height="85.80" fill="#f2f2f2" stroke="#333333" stroke-width="0.5"/>
<rect x="635.79" y="215.70" width="2.94" height="33.30" fill="#f2f2f2" stroke="#333333" stroke-width="0.5"/>
<rect x="638.72" y="217.20" width="2.94" height="31.80" fill="#f2f2f2" stroke="#333333" stroke-width="0.5"/>
<rect x="641.66" y="212.80" width="2.94" height="36.20" fill="#f2f2f2" stroke="#333333" stroke-width="0.5"/>
<rect x="644.59" y="207.50" width="2.94" height="41.50" fill="#f2f2f2" stroke="#333333" stroke-width="0.5"/>
<rect x="647.53" y="208.30" width="2.94" height="40.70" fill="#f2f2f2" stroke="#333333" stroke-width="0.5"/>
<rect x="650.46" y="194.60" width="2.94" height="54.40" fill="#f2f2f2" stroke="#333333" stroke-width="0.5"/>
<rect x="653.40" y="180.00" width="2.94" height="69.00" fill="#f2f2f2" stroke="#333333" stroke-width="0.5"/>
<rect x="656.33" y="167.30" width="2.94" height="81.70" fill="#f2f2f2" stroke="#333333" stroke-width="0.5"/>
<rect x="659.27" y="183.40" width="2.94" height="65.60" fill="#f2f2f2" stroke="#333333" stroke-width="0.5"/>
<rect x="662.20" y="179.80" width="2.94" height="69.20" fill="#f2f2f2" stroke="#333333" stroke-width="0.5"/>
<rect x="665.14" y="206.30" width="2.94" height="42.70" fill="#f2f2f2" stroke="#333333" stroke-width="0.5"/>
<rect x="668.07" y="224.30" width="2.94" height="24.70" fill="#f2f2f2" stroke="#333333" stroke-width="0.5"/>
<rect x="671.01" y="215.40" width="2.94" height="33.60" fill="#f2f2f2" stroke="#333333" stroke-width="0.5"/>
<rect x="673.94" y="214.40" width="2.94" height="34.60" fill="#f2f2f2" stroke="#333333" stroke-width="0.5"/>
<rect x="676.88" y="219.60" width="2.94" height="29.40" fill="#f2f2f2" stroke="#333333" stroke-width="0.5"/>
<rect x="679.81" y="214.60" width="2.94" height="34.40" fill="#f2f2f2" stroke="#333333" stroke-width="0.5"/>
<rect x="682.75" y="213.30" width="2.94" height="35.70" fill="#f2f2f2" stroke="#333333" stroke-width="0.5"/>
<rect x="685.68" y="223.50" width="2.94" height="25.50" fill="#f2f2f2" stroke="#333333" stroke-width="0.5"/>
<rect x="688.62" y="221.50" width="2.94" height="27.50" fill="#f2f2f2" stroke="#333333" stroke-width="0.5"/>
<rect x="691.55" y="237.30" width="2.94" height="11.70" fill="#f2f2f2" stroke="#333333" stroke-width="0.5"/>
<rect x="694.49" y="224.30" width="2.94" height="24.70" fill="#f2f2f2" stroke="#333333" stroke-width="0.5"/>
<rect x="697.42" y="221.00" width="2.94" height="28.00" fill="#f2f2f2" stroke="#333333" stroke-width="0.5"/>
<rect x="700.36" y="225.00" width="2.94" height="24.00" fill="#f2f2f2" stroke="#333333" stroke-width="0.5"/>
<rect x="703.29" y="227.00" width="2.94" height="22.00" fill="#f2f2f2" stroke="#333333" stroke-width="0.5"/>
<rect x="706.23" y="220.40" width="2.94" height="28.60" fill="#f2f2f2" stroke="#333333" stroke-width="0.5"/>
<rect x="709.16" y="221.50" width="2.94" height="27.50" fill="#f2f2f2" stroke="#333333" stroke-width="0.5"/>
<rect x="712.10" y="220.80" width="2.94" height="28.20" fill="#f2f2f2" stroke="#333333" stroke-width="0.5"/>
<rect x="715.03" y="219.30" width="2.94" height="29.70" fill="#f2f2f2" stroke="#333333" stroke-width="0.5"/>
<rect x="717.97" y="219.00" width="2.94" height="30.00" fill="#f2f2f2" stroke="#333333" stroke-width="0.5"/>
<rect x="720.90" y="197.30" width="2.94" height="51.70" fill="#f2f2f2" stroke="#333333" stroke-width="0.5"/>
<rect x="723.84" y="211.70" width="2.94" height="37.30" fill="#f2f2f2" stroke="#333333" stroke-width="0.5"/>
<rect x="726.77" y="224.60" width="2.94" height="24.40" fill="#f2f2f2" stroke="#333333" stroke-width="0.5"/>
<rect x="729.71" y="223.00" width="2.94" height="26.00" fill="#f2f2f2" stroke="#333333" stroke-width="0.5"/>
<rect x="732.64" y="202.80" width="2.94" height="46.20" fill="#f2f2f2" stroke="#333333" stroke-width="0.5"/>
<rect x="735.58" y="207.40" width="2.94" height="41.60" fill="#f2f2f2" stroke="#333333" stroke-width="0.5"/>
<rect x="738.51" y="208.60" width="2.94" height="40.40" fill="#f2f2f2" stroke="#333333" stroke-width="0.5"/>
<rect x="741.45" y="190.70" width="2.94" height="58.30" fill="#f2f2f2" stroke="#333333" stroke-width="0.5"/>
<rect x="406.80" y="38.00" width="338.20" height="211.00" fill="none" stroke="#444" stroke-width="0.9"/>
<path d="M423.00 249.00v3.2" stroke="#444" stroke-width="0.8"/>
<path d="M452.35 249.00v3.2" stroke="#444" stroke-width="0.8"/>
<path d="M481.70 249.00v3.2" stroke="#444" stroke-width="0.8"/>
<path d="M511.05 249.00v3.2" stroke="#444" stroke-width="0.8"/>
<path d="M540.40 249.00v3.2" stroke="#444" stroke-width="0.8"/>
<path d="M569.75 249.00v3.2" stroke="#444" stroke-width="0.8"/>
<path d="M599.10 249.00v3.2" stroke="#444" stroke-width="0.8"/>
<path d="M628.45 249.00v3.2" stroke="#444" stroke-width="0.8"/>
<path d="M657.80 249.00v3.2" stroke="#444" stroke-width="0.8"/>
<path d="M687.15 249.00v3.2" stroke="#444" stroke-width="0.8"/>
<path d="M716.50 249.00v3.2" stroke="#444" stroke-width="0.8"/>
<text transform="translate(451.30 265.1) scale(1.1 1)" font-size="14" text-anchor="middle" fill="#000" stroke="#000" stroke-width="0.2" font-family="Liberation Sans, sans-serif">20</text>
<text transform="translate(510.10 265.1) scale(1.1 1)" font-size="14" text-anchor="middle" fill="#000" stroke="#000" stroke-width="0.2" font-family="Liberation Sans, sans-serif">40</text>
<text transform="translate(568.80 265.1) scale(1.1 1)" font-size="14" text-anchor="middle" fill="#000" stroke="#000" stroke-width="0.2" font-family="Liberation Sans, sans-serif">60</text>
<text transform="translate(627.10 265.1) scale(1.1 1)" font-size="14" text-anchor="middle" fill="#000" stroke="#000" stroke-width="0.2" font-family="Liberation Sans, sans-serif">80</text>
<text transform="translate(691.00 265.1) scale(1.1 1)" font-size="14" text-anchor="middle" fill="#000" stroke="#000" stroke-width="0.2" font-family="Liberation Sans, sans-serif">100</text>
<path d="M403 114.8H406.80M403 159.3H406.80" stroke="#444" stroke-width="0.8"/>
<text x="401.0" y="119.0" font-size="13.8" text-anchor="end" fill="#000" stroke="#000" stroke-width="0.2" font-family="Liberation Sans, sans-serif">99%</text>
<text x="401.0" y="163.3" font-size="13.8" text-anchor="end" fill="#000" stroke="#000" stroke-width="0.2" font-family="Liberation Sans, sans-serif">95%</text>
<text transform="translate(582.3 282.7) scale(1.047 1)" font-size="16.8" text-anchor="middle" fill="#000" stroke="#000" stroke-width="0.2" font-family="Liberation Sans, sans-serif">Residue # (window center)</text>
<text transform="translate(367.0 130.8) rotate(-90) scale(1 1.06)" font-size="16.8" text-anchor="middle" fill="#000" stroke="#000" stroke-width="0.2" font-family="Liberation Sans, sans-serif">Error value*</text>
<text x="404" y="16.3" font-size="20" font-weight="bold" fill="#000" font-family="Liberation Sans, sans-serif">(b)</text>
</svg>
</body></html>
